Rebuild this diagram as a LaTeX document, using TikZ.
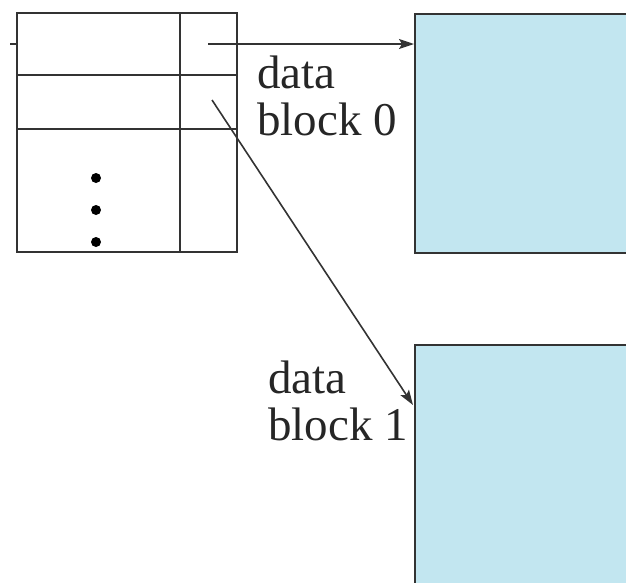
\documentclass[tikz,border=0pt]{standalone}
\usepackage{fontspec}
\setmainfont{Liberation Serif}
\usetikzlibrary{arrows.meta}
\definecolor{linegray}{HTML}{333333}
\definecolor{blockblue}{HTML}{C2E6F0}
\tikzset{
  tbl/.style={draw=linegray, line width=2.2pt},
  blk/.style={draw=linegray, line width=2pt, fill=blockblue, rectangle, inner sep=0pt, anchor=north west, minimum width=240pt, minimum height=#1},
  ptr/.style={draw=linegray, line width=1.6pt, -{Stealth[length=15pt,width=10pt,inset=3pt]}},
  lbl/.style={font=\fontsize{47}{47}\selectfont, text=black!85, align=left, inner sep=0pt, anchor=base west},
  dot/.style={circle, fill=black, inner sep=0pt, minimum size=10pt}
}
\begin{document}
\begin{tikzpicture}[x=1pt,y=-1pt]
\useasboundingbox (0,0) rectangle (626,582);
\clip (0,0) rectangle (626,582);
% index table
\draw[tbl] (17,13) rectangle (237,252);
\draw[tbl] (180,13) -- (180,252);
\draw[tbl] (17,75) -- (237,75);
\draw[tbl] (17,129) -- (237,129);
\draw[tbl] (10,44) -- (17,44);
\node[dot] (d1) at (96,178) {};
\node[dot] (d2) at (96,210) {};
\node[dot] (d3) at (96,242) {};
% data blocks
\node[blk=239pt] (b0) at (414,13) {};
\node[blk=260pt] (b1) at (414,344) {};
% pointers
\coordinate (p0) at (208,44);
\coordinate (p1) at (212,100);
\coordinate (t1) at (413,405);
\draw[ptr] (p0) -- (p0 -| b0.west);
\draw[ptr] (p1) -- (t1);
% labels
\node[lbl] (l0) at (257,135) {data\\block 0};
\node[lbl] (l1) at (268,440) {data\\block 1};
\end{tikzpicture}
\end{document}
